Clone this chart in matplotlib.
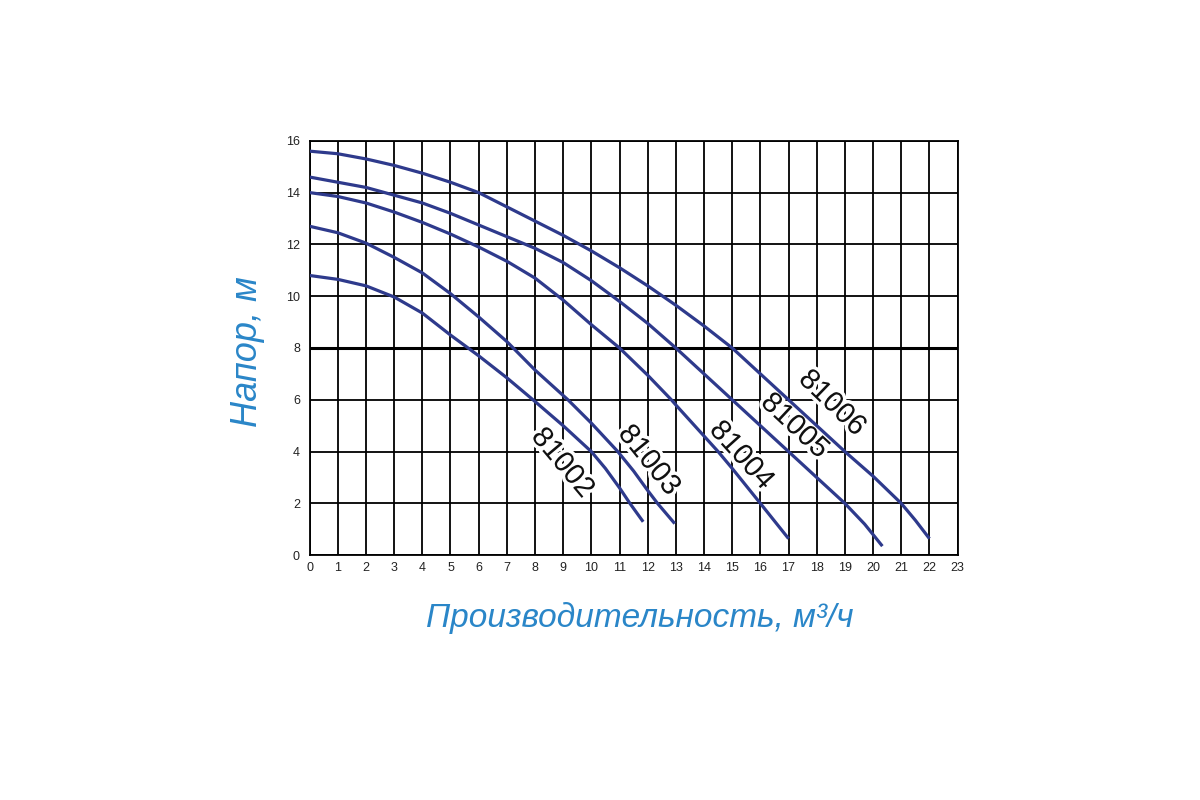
import matplotlib
matplotlib.use("Agg")
import matplotlib.pyplot as plt
import matplotlib.patheffects as pe

# ── Pump curves (flow m3/h, head m) ─────────────────────────────────────────
MODELS = ["81002", "81003", "81004", "81005", "81006"]

q_81002 = [0, 1, 2, 3, 4, 5, 5.6, 6, 7, 7.93, 9, 10, 10.5, 11, 11.37, 11.84]
h_81002 = [10.8, 10.65, 10.4, 9.97, 9.35, 8.5, 8.02, 7.7, 6.85, 6.0, 5.0, 4.0, 3.35, 2.6, 2.0, 1.29]

q_81003 = [0, 1, 2, 3, 4, 5, 6, 7, 8, 9.17, 10, 10.94, 11.5, 12, 12.35, 12.96]
h_81003 = [12.7, 12.45, 12.05, 11.5, 10.9, 10.1, 9.2, 8.25, 7.15, 6.0, 5.1, 4.0, 3.25, 2.5, 2.0, 1.22]

q_81004 = [0, 1, 2, 3, 4, 5, 6, 7, 8, 9, 10, 11, 12, 12.84, 13, 14, 14.5, 15, 16, 17]
h_81004 = [14.0, 13.85, 13.6, 13.25, 12.85, 12.4, 11.9, 11.35, 10.7, 9.85, 8.9, 8.0, 6.95, 6.0, 5.8, 4.6, 4.0, 3.35, 2.0, 0.64]

q_81005 = [0, 1, 2, 3, 4, 5, 6, 7, 8, 9, 10, 11, 12, 13, 14, 15, 16, 17, 18, 19, 19.7, 20.33]
h_81005 = [14.6, 14.4, 14.2, 13.9, 13.6, 13.2, 12.75, 12.3, 11.85, 11.3, 10.6, 9.8, 8.95, 8.0, 7.0, 6.0, 5.0, 4.0, 3.0, 2.0, 1.2, 0.35]

q_81006 = [0, 1, 2, 3, 4, 5, 6, 7, 8, 9, 10, 11, 12, 13, 14, 15, 16, 17, 18, 19, 20, 21, 21.5, 22]
h_81006 = [15.6, 15.5, 15.3, 15.05, 14.75, 14.4, 14.0, 13.45, 12.9, 12.35, 11.75, 11.1, 10.4, 9.65, 8.85, 8.0, 7.0, 6.0, 5.0, 4.0, 3.05, 2.0, 1.35, 0.64]

# label anchor (q, h) and text angle for each model
label_q = [8.98, 12.05, 15.33, 17.22, 18.55]
label_h = [3.57, 3.67, 3.86, 5.0, 5.88]
label_rot = [-50, -51, -48, -43, -44]

X_TICKS = list(range(0, 24))
Y_TICKS = list(range(0, 17, 2))

LINE_C = "#2e3a8c"
LABEL_C = "#2a86c8"
plt.rcParams["font.family"] = ["Liberation Sans", "DejaVu Sans"]

fig = plt.figure(figsize=(12, 8), dpi=100)
ax = fig.add_axes([0.258, 0.306, 0.540, 0.518])

# grid
for x in X_TICKS:
    ax.axvline(x, color="black", lw=1.3, zorder=1)
for y in Y_TICKS:
    ax.axhline(y, color="black", lw=2.2 if y == 8 else 1.3, zorder=1)

curves = [(q_81002, h_81002), (q_81003, h_81003), (q_81004, h_81004),
          (q_81005, h_81005), (q_81006, h_81006)]
for (q, h) in curves:
    ax.plot(q, h, color=LINE_C, lw=2.3, solid_capstyle="butt",
            solid_joinstyle="round", zorder=3)

# model names with a light white halo, as in the original sheet
for name, lq, lh, rot in zip(MODELS, label_q, label_h, label_rot):
    ax.text(lq, lh, name, rotation=rot, rotation_mode="anchor",
            ha="center", va="center", fontsize=21, color="#111111", zorder=2,
            path_effects=[pe.withStroke(linewidth=5, foreground="white")])

ax.set_xlim(0, 23)
ax.set_ylim(0, 16)
ax.set_xticks(X_TICKS)
ax.set_yticks(Y_TICKS)
ax.tick_params(length=0, labelsize=9, colors="#222222")
ax.tick_params(axis="x", pad=5)
ax.tick_params(axis="y", pad=7)
for s in ax.spines.values():
    s.set_linewidth(1.3)

fig.text(0.533, 0.228, "Производительность, м³/ч", ha="center", va="center",
         fontsize=24, style="italic", color=LABEL_C)
fig.text(0.206, 0.56, "Напор, м", ha="center", va="center", rotation=90,
         fontsize=26, style="italic", color=LABEL_C)

fig.savefig("out.png", dpi=100, facecolor="white")
